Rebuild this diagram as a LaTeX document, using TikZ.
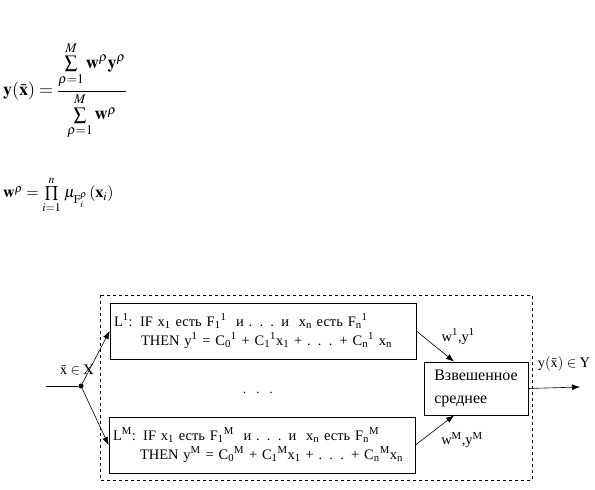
\documentclass[tikz,border=0pt]{standalone}
\usepackage{mathptmx}
\usepackage{fontspec}
\setmainfont{Liberation Serif}
\usetikzlibrary{arrows.meta,positioning}

\tikzset{
  rulebox/.style={draw, thick, text width=298pt, inner xsep=4pt, minimum height=56pt, align=left, font=\fontsize{14.5}{19}\selectfont},
  avgbox/.style={draw, thick, minimum width=104pt, minimum height=53pt, align=left, font=\fontsize{16}{23}\selectfont},
  lbl/.style={font=\fontsize{14.5}{16}\selectfont},
  conn/.style={-{Latex[length=8pt,width=6pt]}, semithick}
}
\newcommand{\sbsp}[3]{#1\textsubscript{#2}\textsuperscript{#3}}

\begin{document}
\begin{tikzpicture}[x=1pt,y=-1pt]
\useasboundingbox (0,0) rectangle (595,490);

% formulas
\node[anchor=west, inner sep=0pt, font=\fontsize{18}{20}\selectfont\boldmath] (fy) at (3,91)
  {$\mathbf{y}(\bar{\mathbf{x}}) = \displaystyle\frac{\sum\limits_{\rho=1}^{M}\mathbf{w}^{\rho}\mathbf{y}^{\rho}}{\sum\limits_{\rho=1}^{M}\mathbf{w}^{\rho}}\hspace{8pt}$};
\node[anchor=west, inner sep=0pt, font=\fontsize{16}{18}\selectfont\boldmath] (fw) at (3,195)
  {$\mathbf{w}^{\rho} = \prod\limits_{i=1}^{n}\,\mu_{\mathrm{F}_i^{\rho}}\,(\mathbf{x}_i)$};

% system
\draw[dashed] (100,295) rectangle (532,480);
\node[rulebox] (rule1) at (263,331)
  {L\textsuperscript{1}: IF x\textsubscript{1} есть \sbsp{F}{1}{1}\ \ и . . . и\ \ x\textsubscript{n} есть \sbsp{F}{n}{1}\\
   \hspace{27pt}THEN y\textsuperscript{1} = \sbsp{C}{0}{1} + \sbsp{C}{1}{1}x\textsubscript{1} + . . . + \sbsp{C}{n}{1} x\textsubscript{n}};
\node[rulebox] (ruleM) at (262,445)
  {L\textsuperscript{M}: IF x\textsubscript{1} есть \sbsp{F}{1}{M}\ \ и . . . и\ \ x\textsubscript{n} есть \sbsp{F}{n}{M}\\
   \hspace{27pt}THEN y\textsuperscript{M} = \sbsp{C}{0}{M} + \sbsp{C}{1}{M}x\textsubscript{1} + . . . + \sbsp{C}{n}{M}x\textsubscript{n}};
\node[lbl, font=\fontsize{14.5}{16}\selectfont\boldmath] (dots) at (258,393) {$\cdot\ \ \cdot\ \ \cdot$};
\node[avgbox] (avg) at (476,388.5) {Взвешенное\\среднее};

% input and output
\node[circle, fill, inner sep=1.8pt] (split) at (81,386) {};
\coordinate (in) at (46,386);
\node[lbl] (xin) at (77,370) {$\bar{\mathrm{x}}\in\mathrm{X}$};
\coordinate (out) at (580,387);
\node[lbl] (yout) at (564,364) {$\mathrm{y}(\bar{\mathrm{x}})\in\mathrm{Y}$};

\draw[semithick] (in) -- (split);
\draw[conn] (split) -- (rule1.west);
\draw[conn] (split) -- (ruleM.west);
\draw[conn] (rule1.east) -- ([xshift=-22pt]avg.north) node[lbl, pos=0.55, above right=0pt and 1pt] (w1) {w\textsuperscript{1},y\textsuperscript{1}};
\draw[conn] (ruleM.east) -- ([xshift=-22pt]avg.south) node[lbl, pos=0.55, below right=0pt and 1pt] (wM) {w\textsuperscript{M},y\textsuperscript{M}};
\draw[conn] (avg.east) -- (out);
\end{tikzpicture}
\end{document}
